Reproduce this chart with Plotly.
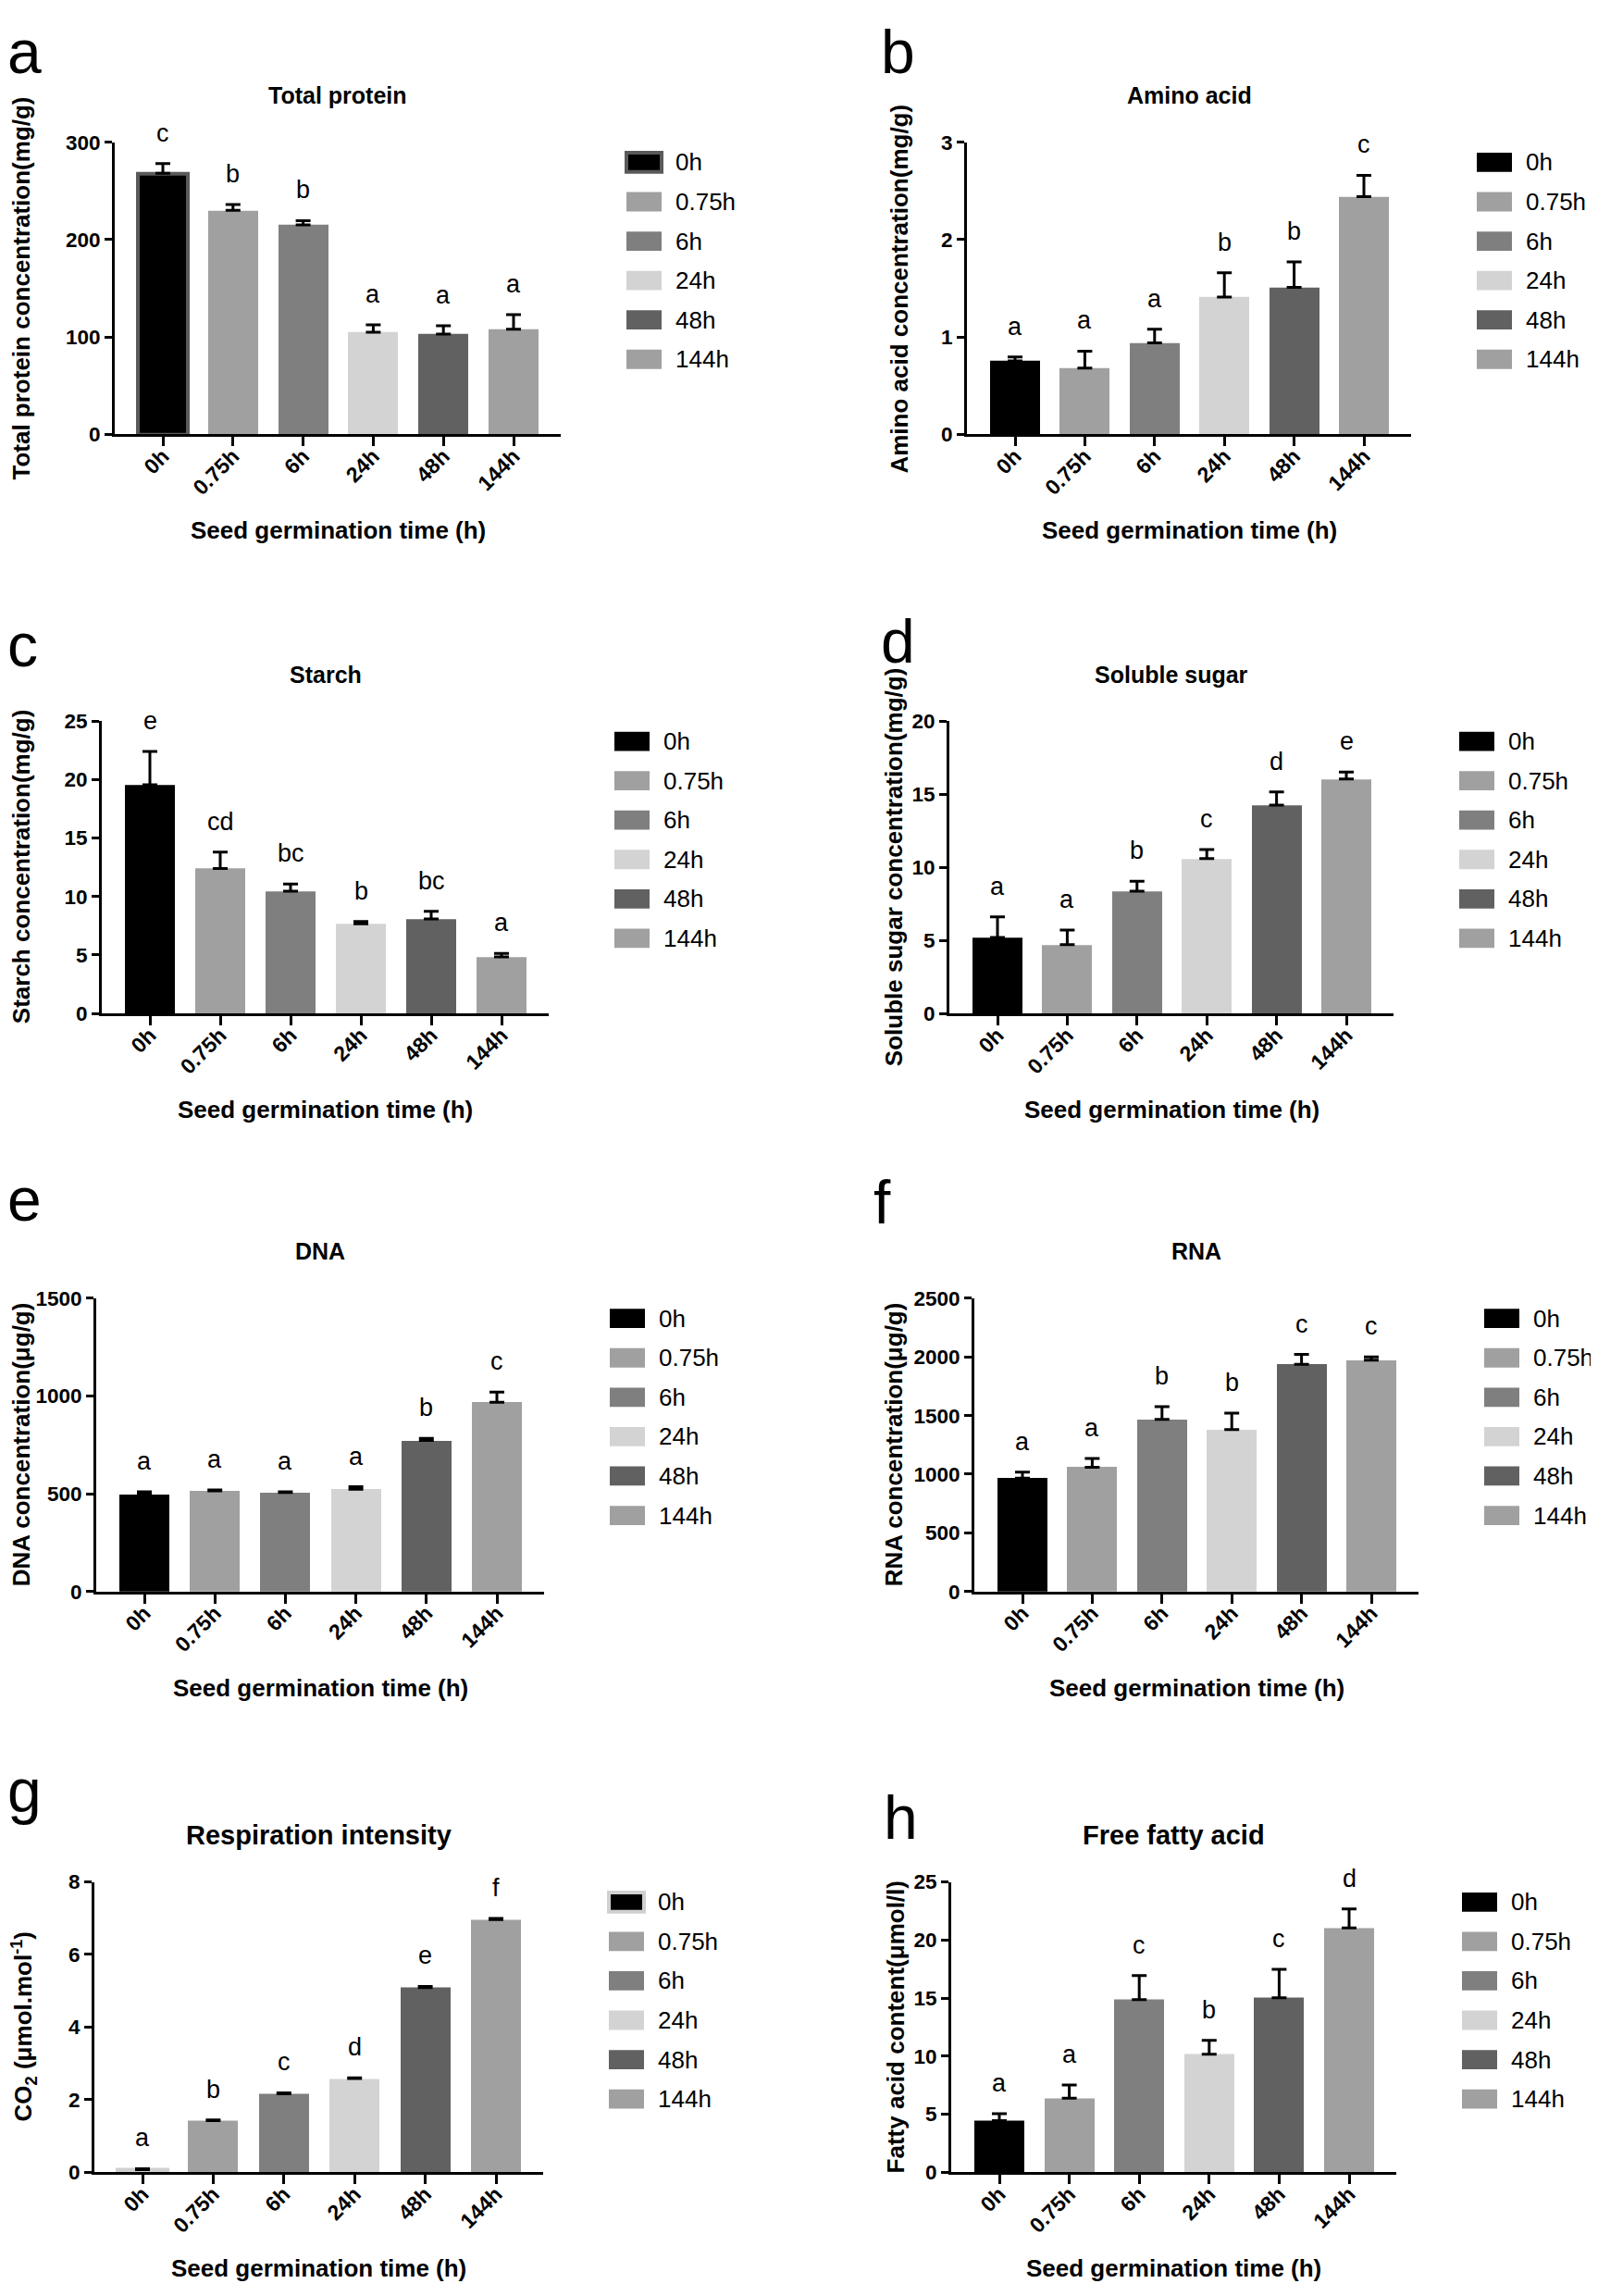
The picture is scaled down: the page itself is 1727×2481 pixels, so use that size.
import plotly.graph_objects as go

W, H = 1727, 2481
OFF = 8  # the page shows the figure offset by the body margin; positions below are page pixels

# ---------------- data ----------------
categories = ["0h", "0.75h", "6h", "24h", "48h", "144h"]
bar_colors = ["#000000", "#a0a0a0", "#7f7f7f", "#d3d3d3", "#616161", "#a0a0a0"]

protein_mean = [268, 230, 215, 105, 103, 108]
protein_err = [10, 6, 4.5, 7.5, 8.5, 15]
protein_letters = ["c", "b", "b", "a", "a", "a"]

amino_mean = [0.755, 0.68, 0.94, 1.41, 1.51, 2.44]
amino_err = [0.04, 0.175, 0.14, 0.25, 0.26, 0.22]
amino_letters = ["a", "a", "a", "b", "b", "c"]

starch_mean = [19.55, 12.4, 10.46, 7.67, 8.08, 4.83]
starch_err = [2.85, 1.4, 0.6, 0.2, 0.65, 0.3]
starch_letters = ["e", "cd", "bc", "b", "bc", "a"]

sugar_mean = [5.2, 4.7, 8.37, 10.59, 14.26, 16.04]
sugar_err = [1.4, 1.0, 0.67, 0.62, 0.9, 0.47]
sugar_letters = ["a", "a", "b", "c", "d", "e"]

dna_mean = [497, 515, 506, 523, 773, 968]
dna_err = [13, 4, 4, 13, 11, 52]
dna_letters = ["a", "a", "a", "a", "b", "c"]

rna_mean = [967, 1060, 1468, 1381, 1938, 1972]
rna_err = [50, 74, 108, 139, 83, 28]
rna_letters = ["a", "a", "b", "b", "c", "c"]

co2_mean = [0.07, 1.42, 2.16, 2.58, 5.09, 6.96]
co2_err = [0.03, 0.02, 0.03, 0.02, 0.03, 0.03]
co2_letters = ["a", "b", "c", "d", "e", "f"]

ffa_mean = [4.45, 6.37, 14.87, 10.16, 15.02, 21.03]
ffa_err = [0.6, 1.15, 2.07, 1.2, 2.46, 1.63]
ffa_letters = ["a", "a", "c", "b", "c", "d"]

panel_labels = ["a", "b", "c", "d", "e", "f", "g", "h"]
panel_titles = ["Total protein", "Amino acid", "Starch", "Soluble sugar",
                "DNA", "RNA", "Respiration intensity", "Free fatty acid"]
y_titles = ["Total protein concentration(mg/g)",
            "Amino acid concentration(mg/g)",
            "Starch concentration(mg/g)",
            "Soluble sugar concentration(mg/g)",
            "DNA concentration(μg/g)",
            "RNA concentration(μg/g)",
            "CO<sub>2</sub> (μmol.mol<sup>-1</sup>)",
            "Fatty acid content(μmol/l)"]
x_title = "Seed germination time (h)"
y_max = [300, 3, 25, 20, 1500, 2500, 8, 25]
y_dtick = [100, 1, 5, 5, 500, 500, 2, 5]

means = [protein_mean, amino_mean, starch_mean, sugar_mean, dna_mean, rna_mean, co2_mean, ffa_mean]
errs = [protein_err, amino_err, starch_err, sugar_err, dna_err, rna_err, co2_err, ffa_err]
letters = [protein_letters, amino_letters, starch_letters, sugar_letters,
           dna_letters, rna_letters, co2_letters, ffa_letters]

# ---------------- layout geometry (page pixels) ----------------
# first / last category centre x, plot top, plot bottom, y-title centre x,
# panel-letter ink left, panel-letter baseline
geom = [
    (176, 555, 143, 462, 23, 4, 60),
    (1097, 1474, 143, 462, 972, 956, 60),
    (162, 542, 775, 1094, 23, 7, 715),
    (1078, 1455, 775, 1094, 966, 956, 711),
    (156, 537, 1405, 1725, 23, 7, 1320),
    (1105, 1482, 1405, 1725, 966, 948, 1323),
    (154, 536, 2042, 2359, 26, 10, 1966),
    (1080, 1458, 2042, 2359, 968, 959, 1995),
]
title_sizes = [25, 25, 25, 25, 25, 25, 29, 29]
LETTER_SIZE = 66

FONT = "Liberation Sans, Arial, sans-serif"
NARROW = "Liberation Sans Narrow, Arial Narrow, Liberation Sans, Arial, sans-serif"


def fx(px):
    return (px - OFF) / W


def fy(py):
    return 1 - (py - OFF) / H


fig = go.Figure()
annotations = []
shapes = []

for i in range(8):
    n = i + 1
    sfx = "" if n == 1 else str(n)
    c0, c5, T, B, ytx, lx, lb = geom[i]
    s = (c5 - c0) / 5.0
    L = c0 - 52
    R = c5 + 51
    xr = [-52 / s, 5 + 51 / s]

    line_cols = ["rgba(0,0,0,0)"] * 6
    line_w = [0] * 6
    if i == 0:
        line_cols[0] = "#5a5a5a"
        line_w[0] = 4
    if i == 6:
        line_cols[0] = "#d0d0d0"
        line_w[0] = 4

    fig.add_trace(go.Bar(
        x=categories, y=means[i], width=54 / s,
        marker=dict(color=bar_colors, line=dict(color=line_cols, width=line_w)),
        error_y=dict(type="data", symmetric=False, array=errs[i],
                     arrayminus=[0] * 6, color="#000000", thickness=3, width=8),
        xaxis="x" + sfx, yaxis="y" + sfx, showlegend=False,
        hoverinfo="x+y",
    ))

    fig.layout["xaxis" + sfx] = dict(
        domain=[fx(L), fx(R)], range=xr, anchor="y" + sfx,
        type="category", showline=True, linecolor="#000", linewidth=3,
        ticks="outside", ticklen=10, tickwidth=3, tickcolor="#000",
        tickangle=-45, ticklabelstandoff=-12,
        tickfont=dict(family=FONT, size=23, color="#000", weight="bold"),
        showgrid=False, zeroline=False, fixedrange=True,
    )
    fig.layout["yaxis" + sfx] = dict(
        domain=[fy(B), fy(T)], range=[0, y_max[i]], anchor="x" + sfx,
        tickmode="linear", tick0=0, dtick=y_dtick[i],
        showline=True, linecolor="#000", linewidth=3,
        ticks="outside", ticklen=8, tickwidth=3, tickcolor="#000",
        tickfont=dict(family=FONT, size=22.5, color="#000", weight="bold"),
        showgrid=False, zeroline=False, fixedrange=True,
    )

    # significance letters
    for k in range(6):
        annotations.append(dict(
            x=categories[k], y=means[i][k] + errs[i][k], xref="x" + sfx, yref="y" + sfx,
            text=letters[i][k], showarrow=False, yanchor="bottom", yshift=16,
            font=dict(family=NARROW, size=27, color="#000"),
        ))

    cx = (L + R) / 2
    # panel title
    annotations.append(dict(
        x=fx(cx), y=fy(T - 51), xref="paper", yref="paper", text=panel_titles[i],
        showarrow=False, xanchor="center", yanchor="middle",
        font=dict(family=FONT, size=title_sizes[i], color="#000", weight="bold"),
    ))
    # x title
    annotations.append(dict(
        x=fx(cx), y=fy(B + 105), xref="paper", yref="paper", text=x_title,
        showarrow=False, xanchor="center", yanchor="middle",
        font=dict(family=FONT, size=26, color="#000", weight="bold"),
    ))
    # y title
    annotations.append(dict(
        x=fx(ytx), y=fy((T + B) / 2), xref="paper", yref="paper", text=y_titles[i],
        showarrow=False, xanchor="center", yanchor="middle", textangle=-90,
        font=dict(family=FONT, size=26, color="#000", weight="bold"),
    ))
    # panel letter (kept fully inside the figure)
    base = max(lb, OFF + 0.905 * LETTER_SIZE + 0.5)
    annotations.append(dict(
        x=fx(max(lx - 4, OFF)), y=fy(base + 0.212 * LETTER_SIZE), xref="paper", yref="paper",
        text=panel_labels[i], showarrow=False, xanchor="left", yanchor="bottom",
        borderpad=0, borderwidth=0,
        font=dict(family=FONT, size=LETTER_SIZE, color="#000"),
    ))

    # legend (custom swatches)
    for k in range(6):
        yc = T + 22 + 43 * k
        x0 = R + 71
        border_col = "rgba(0,0,0,0)"
        bw = 0
        if k == 0 and i == 0:
            border_col, bw = "#5a5a5a", 4
        if k == 0 and i == 6:
            border_col, bw = "#d0d0d0", 4
        shapes.append(dict(
            type="rect", xref="paper", yref="paper",
            x0=fx(x0), x1=fx(x0 + 38), y0=fy(yc + 10.5), y1=fy(yc - 10.5),
            fillcolor=bar_colors[k], line=dict(color=border_col, width=bw),
        ))
        annotations.append(dict(
            x=fx(x0 + 51), y=fy(yc), xref="paper", yref="paper", text=categories[k],
            showarrow=False, xanchor="left", yanchor="middle",
            font=dict(family=NARROW, size=26, color="#000"),
        ))

fig.update_layout(
    width=W, height=H, autosize=False,
    margin=dict(l=0, r=0, t=0, b=0),
    paper_bgcolor="white", plot_bgcolor="white",
    barmode="overlay", bargap=0,
    annotations=annotations, shapes=shapes,
    showlegend=False,
)

fig.write_html("out.html")
